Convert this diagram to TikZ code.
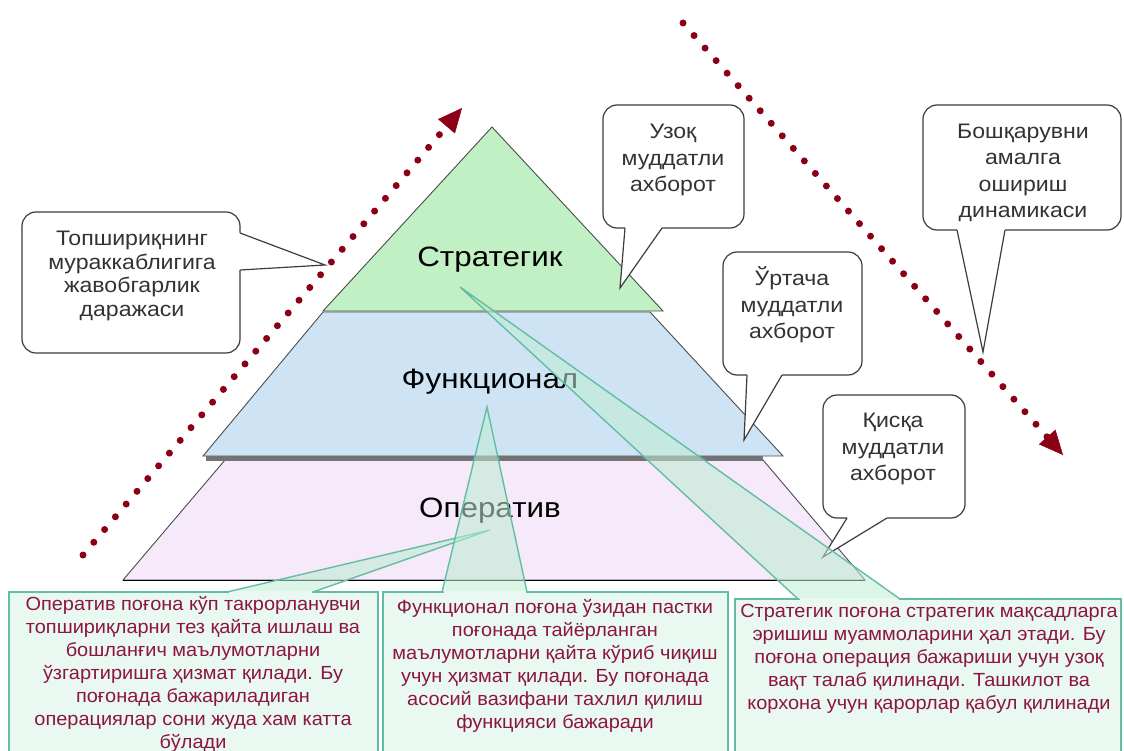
\documentclass[tikz,border=0pt]{standalone}
\usepackage{fontspec}
\setmainfont{Liberation Sans}
\usetikzlibrary{arrows.meta,calc}
\definecolor{pygreen}{RGB}{192,240,196}
\definecolor{pyblue}{RGB}{206,228,245}
\definecolor{pypurple}{RGB}{245,233,250}
\definecolor{boxfill}{RGB}{233,248,241}
\definecolor{boxline}{RGB}{100,188,165}
\definecolor{tailfill}{RGB}{190,236,210}
\definecolor{dotred}{RGB}{140,0,22}
\definecolor{maroon}{RGB}{140,22,62}
\definecolor{cline}{RGB}{60,60,60}
\newcommand\mybcall[8]{%
  \draw[cbox] (#1,#2) rectangle (#3,#4);
  \fill[white] (#5,#4-2.5) -- (#5,#4) -- (#7,#8) -- (#6,#4) -- (#6,#4-2.5) -- cycle;
  \draw[cedge] (#5,#4) -- (#7,#8) -- (#6,#4);
}
\newcommand\mytcall[7]{%
  \draw[gbox] (#1,#2) rectangle (#3,775);
  \fill[tailfill, fill opacity=0.55] (#4,#2) -- (#6,#7) -- (#5,#2) -- cycle;
  \draw[boxfill, line width=2.2pt] (#4+1.5,#2) -- (#5-1.5,#2);
  \draw[gedge] (#4,#2) -- (#6,#7) -- (#5,#2);
}
\begin{document}
\begin{tikzpicture}[x=1pt,y=-1pt,
  layer/.style={draw=black!70, line width=0.9pt},
  pylabel/.style={anchor=base, inner sep=0pt, font=\fontsize{28}{30}\selectfont, xscale=1.12},
  cbox/.style={draw=cline, fill=white, line width=1.2pt, rounded corners=14pt},
  cedge/.style={draw=cline, line width=1.2pt},
  ctext/.style={align=center, inner sep=0pt, text=black!80, font=\fontsize{21}{26.5}\selectfont, xscale=1.1},
  gbox/.style={draw=boxline, fill=boxfill, line width=1.6pt},
  gedge/.style={draw=boxline, line width=1.4pt, line join=miter},
  btext/.style={align=center, inner sep=0pt, text=maroon, font=\fontsize{19}{23}\selectfont, xscale=1.05},
  dotline/.style={draw=dotred, line width=7pt, line cap=round, dash pattern=on 0pt off 16.7pt},
  headline/.style={draw=dotred, fill=dotred, line width=0.5pt, -{Triangle[length=24pt,width=22pt]}}
]
\useasboundingbox (0,0) rectangle (1124,751);
\clip (0,0) rectangle (1124,751);
% pyramid
\filldraw[layer, fill=pypurple] (225,460) -- (763,460) -- (865,580) -- (123,580) -- cycle;
\filldraw[layer, fill=pyblue] (323,312) -- (650,312) -- (783,456) -- (203,456) -- cycle;
\fill[black!55] (206,455.5) rectangle (763,460.5);
\filldraw[layer, fill=pygreen] (492,127) -- (663,311) -- (323,311) -- cycle;
\draw[black, line width=1pt] (123,580) -- (865,580);
\node[pylabel] (strat) at (490,267) {Стратегик};
\node[pylabel] (func) at (490,388) {Функционал};
\node[pylabel] (oper) at (490,517) {Оператив};
% dotted arrows
\coordinate (Ls) at (83,555);
\coordinate (Lt) at (462,108);
\coordinate (Rs) at (683,23);
\coordinate (Rt) at (1063,455);
\draw[dotline] (Ls) -- ($(Lt)!27pt!(Ls)$);
\draw[headline] ($(Lt)!24pt!(Ls)$) -- (Lt);
\draw[dotline] (Rs) -- ($(Rt)!24pt!(Rs)$);
\draw[headline] ($(Rt)!22pt!(Rs)$) -- (Rt);
% white callouts
\draw[cbox] (22,212) rectangle (240,353);
\fill[white] (237.5,233) -- (240,233) -- (325,265) -- (240,270) -- (237.5,270) -- cycle;
\draw[cedge] (240,233) -- (325,265) -- (240,270);
\node[ctext, font=\fontsize{21}{23.5}\selectfont] (c1) at (132,276) {Топшириқнинг\\мураккаблигига\\жавобгарлик\\даражаси};
\mybcall{603}{105}{744}{228}{625}{662}{620}{288}
\node[ctext] (c2) at (673,160) {Узоқ\\муддатли\\ахборот};
\mybcall{723}{252}{862}{375}{747}{782}{744}{440}
\node[ctext] (c3) at (792,305) {Ўртача\\муддатли\\ахборот};
\mybcall{823}{395}{965}{518}{847}{887}{823}{557}
\node[ctext] (c4) at (893,449) {Қисқа\\муддатли\\ахборот};
\mybcall{923}{105}{1121}{230}{957}{1005}{983}{352}
\node[ctext] (c5) at (1023,173) {Бошқарувни\\амалга\\ошириш\\динамикаси};
% bottom callouts
\mytcall{9}{592}{378}{227}{313}{490}{530}
\mytcall{383}{592}{728}{442}{527}{487}{407}
\mytcall{735}{599}{1121}{798}{900}{460}{287}
\node[btext] (b1) at (193,674) {Оператив поғона кўп такрорланувчи\\топшириқларни тез қайта ишлаш ва\\бошланғич маълумотларни\\ўзгартиришга ҳизмат қилади. Бу\\поғонада бажариладиган\\операциялар сони жуда хам катта\\бўлади};
\node[btext] (b2) at (555,666) {Функционал поғона ўзидан пастки\\поғонада тайёрланган\\маълумотларни қайта кўриб чиқиш\\учун ҳизмат қилади. Бу поғонада\\асосий вазифани тахлил қилиш\\функцияси бажаради};
\node[btext] (b3) at (929,659) {Стратегик поғона стратегик мақсадларга\\эришиш муаммоларини ҳал этади. Бу\\поғона операция бажариши учун узоқ\\вақт талаб қилинади. Ташкилот ва\\корхона учун қарорлар қабул қилинади};
\end{tikzpicture}
\end{document}
